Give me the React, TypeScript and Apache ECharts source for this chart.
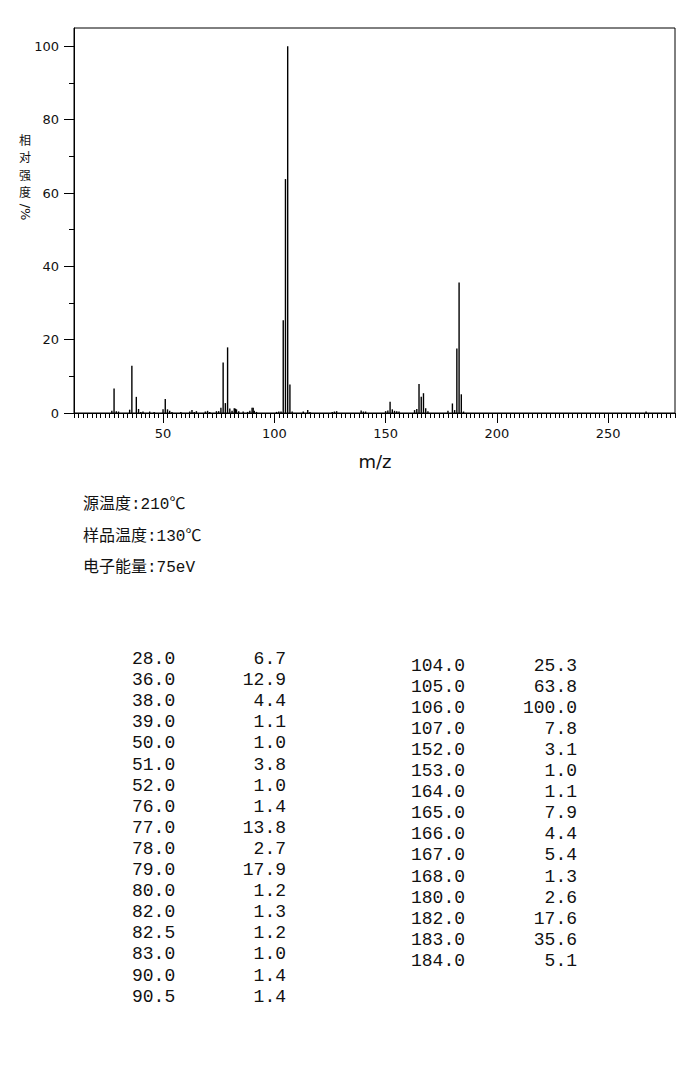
import React, { useEffect, useRef } from "react";
import * as echarts from "echarts";

// Peaks listed in the table (m/z, relative intensity %)
const tableMz = [
  28, 36, 38, 39, 50, 51, 52, 76, 77, 78, 79, 80, 82, 82.5, 83, 90, 90.5,
  104, 105, 106, 107, 152, 153, 164, 165, 166, 167, 168, 180, 182, 183, 184,
];
const tableIntensity = [
  6.7, 12.9, 4.4, 1.1, 1.0, 3.8, 1.0, 1.4, 13.8, 2.7, 17.9, 1.2, 1.3, 1.2, 1.0, 1.4, 1.4,
  25.3, 63.8, 100.0, 7.8, 3.1, 1.0, 1.1, 7.9, 4.4, 5.4, 1.3, 2.6, 17.6, 35.6, 5.1,
];
const leftColumnCount = 17;

// Small peaks (< 1%) visible only in the spectrum
const smallMz = [
  27, 29, 30, 35, 40, 41, 44, 46, 53, 54, 58, 62, 63, 64, 65, 69, 70, 71, 74, 75,
  81, 84, 86, 88, 89, 91, 92, 101, 102, 103, 108, 113, 115, 116, 126, 127, 128,
  139, 140, 141, 150, 151, 154, 155, 156, 163, 169, 178, 181, 185, 267,
];
const smallIntensity = [
  0.6, 0.5, 0.4, 0.9, 0.3, 0.4, 0.4, 0.3, 0.6, 0.3, 0.3, 0.4, 0.8, 0.3, 0.5, 0.4, 0.6, 0.3, 0.5, 0.5,
  0.6, 0.5, 0.4, 0.3, 0.6, 0.6, 0.3, 0.3, 0.4, 0.4, 0.4, 0.4, 0.8, 0.3, 0.3, 0.4, 0.5,
  0.7, 0.4, 0.4, 0.5, 0.7, 0.6, 0.5, 0.4, 0.8, 0.5, 0.6, 0.8, 0.4, 0.4,
];

const infoLines = ["源温度:210℃", "样品温度:130℃", "电子能量:75eV"];

const xMin = 10;
const xMax = 280;
const xMajorTicks = [50, 100, 150, 200, 250];
const xMinorStep = 2;
const yMin = 0;
const yMax = 105;
const yMajorTicks = [0, 20, 40, 60, 80, 100];
const yMinorTicks = [10, 30, 50, 70, 90];

const yAxisTitleChars = ["相", "对", "强", "度"];
const yAxisUnit = "/%";
const xAxisTitle = "m/z";

function textEl(x: number, y: number, text: string, font: string, align: string, vAlign: string, extra: any = {}) {
  return {
    type: "text",
    x,
    y,
    ...extra,
    style: {
      text,
      font,
      fill: "#111",
      align,
      verticalAlign: vAlign,
      textAlign: align,
      textVerticalAlign: vAlign,
      ...(extra.style || {}),
    },
  };
}

export default function App() {
  const ref = useRef<HTMLDivElement>(null);

  useEffect(() => {
    if (!ref.current) return;
    const chart = echarts.init(ref.current, null, { renderer: "svg" });

    const xMinorTicks: number[] = [];
    for (let v = xMin; v <= xMax; v += xMinorStep) xMinorTicks.push(v);

    const peaks: number[][] = [];
    tableMz.forEach((m, i) => peaks.push([m, tableIntensity[i]]));
    smallMz.forEach((m, i) => peaks.push([m, smallIntensity[i]]));
    peaks.sort((a, b) => a[0] - b[0]);

    const labelFont = "DejaVu Sans";
    const monoFont = "18px 'Liberation Mono', monospace";
    const infoFont = "16px 'Liberation Mono', 'Noto Sans CJK SC', monospace";

    const graphics: any[] = [];
    // y axis title: upright stacked characters
    yAxisTitleChars.forEach((c, i) => {
      graphics.push(
        textEl(25, 139 + i * 17.6, c, "12px 'Noto Sans CJK SC', sans-serif", "center", "middle")
      );
    });
    graphics.push(
      textEl(25, 212, yAxisUnit, "13px 'DejaVu Sans', sans-serif", "center", "middle", {
        rotation: -Math.PI / 2,
      })
    );
    // x axis title
    graphics.push(textEl(375, 461, xAxisTitle, "18px 'DejaVu Sans', sans-serif", "center", "middle"));

    // info lines
    infoLines.forEach((t, i) => {
      graphics.push(textEl(83, 505 + i * 31.5, t, infoFont, "left", "middle"));
    });

    // table
    const rowH = 21.1;
    tableMz.forEach((m, i) => {
      const left = i < leftColumnCount;
      const row = left ? i : i - leftColumnCount;
      const y = (left ? 659 : 665.5) + row * rowH;
      const xMz = left ? 132 : 411;
      const xInt = left ? 286 : 577;
      graphics.push(textEl(xMz, y, m.toFixed(1), monoFont, "left", "middle"));
      graphics.push(textEl(xInt, y, tableIntensity[i].toFixed(1), monoFont, "right", "middle"));
    });

    const axisLabelStyle = {
      color: "#111",
      fontSize: 13,
      fontFamily: labelFont,
    };

    chart.setOption({
      animation: false,
      backgroundColor: "#fff",
      grid: {
        left: 74,
        right: 12,
        top: 28,
        bottom: 674,
        show: true,
        borderColor: "#000",
        borderWidth: 1,
        backgroundColor: "transparent",
        containLabel: false,
      },
      xAxis: [
        {
          type: "value",
          min: xMin,
          max: xMax,
          position: "bottom",
          axisLine: { show: true, onZero: false, lineStyle: { color: "#000", width: 1 } },
          axisTick: { show: true, customValues: xMajorTicks, length: 10, lineStyle: { color: "#000" } },
          axisLabel: { show: true, customValues: xMajorTicks, margin: 14, ...axisLabelStyle },
          splitLine: { show: false },
        },
        {
          type: "value",
          min: xMin,
          max: xMax,
          position: "bottom",
          axisLine: { show: false, onZero: false },
          axisTick: { show: true, customValues: xMinorTicks, length: 5, lineStyle: { color: "#000" } },
          axisLabel: { show: false },
          splitLine: { show: false },
        },
      ],
      yAxis: [
        {
          type: "value",
          min: yMin,
          max: yMax,
          position: "left",
          axisLine: { show: true, onZero: false, lineStyle: { color: "#000", width: 1 } },
          axisTick: { show: true, customValues: yMajorTicks, length: 10, lineStyle: { color: "#000" } },
          axisLabel: { show: true, customValues: yMajorTicks, margin: 15, ...axisLabelStyle },
          splitLine: { show: false },
        },
        {
          type: "value",
          min: yMin,
          max: yMax,
          position: "left",
          axisLine: { show: false, onZero: false },
          axisTick: { show: true, customValues: yMinorTicks, length: 5, lineStyle: { color: "#000" } },
          axisLabel: { show: false },
          splitLine: { show: false },
        },
      ],
      series: [
        {
          type: "bar",
          xAxisIndex: 0,
          yAxisIndex: 0,
          data: peaks,
          barWidth: 1.4,
          itemStyle: { color: "#000" },
          silent: true,
        },
      ],
      graphic: { elements: graphics },
    });

    return () => chart.dispose();
  }, []);

  return (
    <div
      ref={ref}
      style={{ position: "absolute", left: 0, top: 0, width: 687, height: 1087, background: "#fff" }}
    />
  );
}
